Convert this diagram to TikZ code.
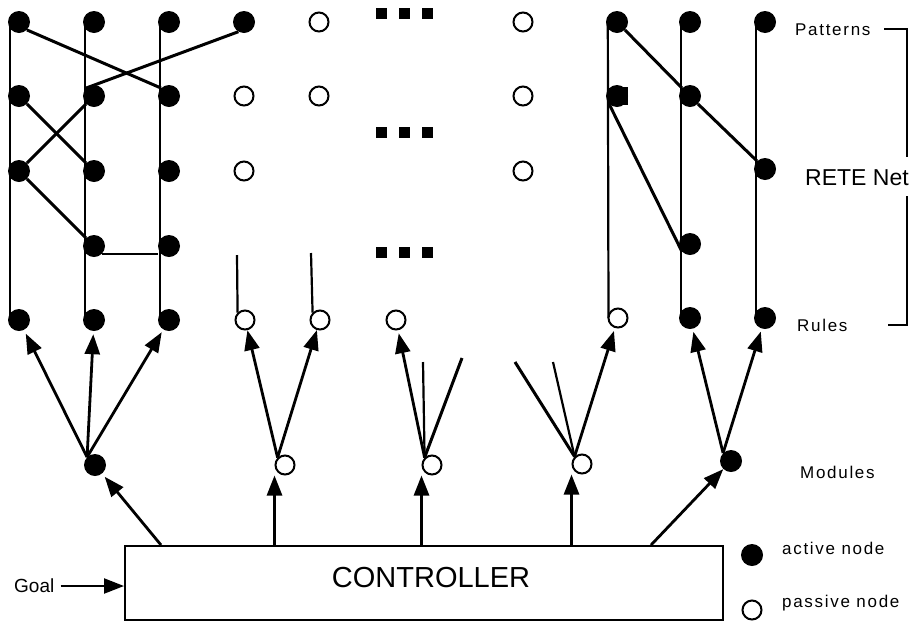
\documentclass[tikz,border=0pt]{standalone}
\usepackage{fontspec}
\setmainfont{Liberation Sans}
\newfontfamily\labelfont[LetterSpace=10]{Liberation Sans}
\usepackage{tikz}
\usetikzlibrary{arrows.meta,backgrounds}

\begin{document}
\begin{tikzpicture}[x=1pt, y=-1pt,
  activenode/.style={circle, fill=black, inner sep=0pt, minimum size=22pt},
  passivenode/.style={circle, draw=black, fill=white, line width=2pt, inner sep=0pt, minimum size=19pt},
  dotbox/.style={rectangle, fill=black, inner sep=0pt, minimum size=11pt},
  netline/.style={line width=2.2pt},
  link/.style={line width=3pt},
  pointer/.style={line width=2.8pt, -{Triangle[length=20pt, width=15pt]}},
  sidelabel/.style={anchor=west, inner sep=0pt, font=\labelfont\fontsize{17}{20}\selectfont}]

\useasboundingbox (0,0) rectangle (912,622);

\node[activenode] (p11) at (19,22) {};
\node[activenode] (p12) at (94,22) {};
\node[activenode] (p13) at (169,22) {};
\node[activenode] (p14) at (244,22) {};
\node[passivenode] (p15) at (319,22) {};
\node[passivenode] (p16) at (523,22) {};
\node[activenode] (p17) at (617,22) {};
\node[activenode] (p18) at (690,22) {};
\node[activenode] (p19) at (765,22) {};

\node[activenode] (p21) at (19,96) {};
\node[activenode] (p22) at (94,96) {};
\node[activenode] (p23) at (169,96) {};
\node[passivenode] (p24) at (244,96) {};
\node[passivenode] (p25) at (319,96) {};
\node[passivenode] (p26) at (523,96) {};
\node[activenode] (p27) at (617,96) {};
\node[activenode] (p28) at (690,96) {};

\node[activenode] (p31) at (19,171) {};
\node[activenode] (p32) at (94,171) {};
\node[activenode] (p33) at (169,171) {};
\node[passivenode] (p34) at (244,171) {};
\node[passivenode] (p36) at (523,171) {};
\node[activenode] (p39) at (765,169) {};

\node[activenode] (p42) at (94,246) {};
\node[activenode] (p43) at (169,246) {};
\node[activenode] (p48) at (690,244) {};

\node[activenode] (r1) at (19,320) {};
\node[activenode] (r2) at (94,320) {};
\node[activenode] (r3) at (169,320) {};
\node[passivenode] (r4) at (245,320) {};
\node[passivenode] (r5) at (320,320) {};
\node[passivenode] (r6) at (396,320) {};
\node[passivenode] (r7) at (618,318) {};
\node[activenode] (r8) at (690,318) {};
\node[activenode] (r9) at (765,318) {};

\node[dotbox] (d11) at (381,13) {};
\node[dotbox] (d12) at (404,13) {};
\node[dotbox] (d13) at (427,13) {};
\node[dotbox] (d21) at (381,132) {};
\node[dotbox] (d22) at (404,132) {};
\node[dotbox] (d23) at (427,132) {};
\node[dotbox] (d31) at (381,252) {};
\node[dotbox] (d32) at (404,252) {};
\node[dotbox] (d33) at (427,252) {};

\node[activenode] (m1) at (95,465) {};
\node[passivenode] (m2) at (285,465) {};
\node[passivenode] (m3) at (432,465) {};
\node[passivenode] (m4) at (582,464) {};
\node[activenode] (m5) at (731,461) {};

\node[draw, line width=2pt, minimum width=598pt, minimum height=74pt,
  label={[font=\fontsize{29}{33}\selectfont, xshift=7pt, yshift=5pt]center:CONTROLLER}] (ctrl) at (424,583) {};

\node[anchor=west, inner sep=0pt, font=\fontsize{19}{22}\selectfont] (goal) at (14,586) {Goal};
\node[sidelabel] (patterns) at (795,30) {Patterns};
\node[anchor=west, inner sep=0pt, font=\fontsize{23}{26}\selectfont] (rete) at (805,178) {RETE Net};
\node[sidelabel] (rules) at (797,325) {Rules};
\node[sidelabel] (modules) at (800,472) {Modules};
\node[activenode] (keyactive) at (752,555) {};
\node[passivenode] (keypassive) at (752,610) {};
\node[sidelabel] (activetext) at (782,548) {active node};
\node[sidelabel] (passivetext) at (782,603) {passive node};

\fill ([yshift=-2pt]p27.north) rectangle ([yshift=2pt]p27.east |- p27.south);

\coordinate (s4) at (237,255);
\coordinate (s5) at (311,253);
\coordinate (t31) at (423,362);
\coordinate (t32) at (462,358);
\coordinate (t41) at (515,362);
\coordinate (t42) at (553,362);
\coordinate (c1) at ([xshift=37pt]ctrl.north west);
\coordinate (c5) at ([xshift=-73pt]ctrl.north east);
\coordinate (bt) at (884,29);
\coordinate (bb) at (888,325);

\begin{scope}[on background layer]
\draw[netline] ([xshift=2pt]p11.west) -- ([xshift=2pt]r1.west);
\draw[netline] ([xshift=2pt]p12.west) -- ([xshift=2pt]r2.west);
\draw[netline] ([xshift=2pt]p13.west) -- ([xshift=2pt]r3.west);
\draw[netline] ([xshift=2pt]p17.west) -- ([xshift=1pt]r7.west);
\draw[netline] ([xshift=2pt]p18.west) -- ([xshift=2pt]r8.west);
\draw[netline] ([xshift=2pt]p19.west) -- ([xshift=2pt]r9.west);
\draw[netline] (s4) -- (r4.north west);
\draw[netline] (s5) -- (r5.north west);

\draw[link] (p11.south east) -- (p23.north west);
\draw[link] (p14.-120) -- (p22.north west);
\draw[link] (p21.south east) -- (p32.north west);
\draw[link] (p31.north east) -- (p22.south west);
\draw[link] (p31.south east) -- (p42.north west);
\draw[netline] (p42.south east) -- (p42.south east -| p43.west);
\draw[link] (p17.south east) -- (p28.north west);
\draw[link] (p28.south east) -- (p39.north west);
\draw[link] (p27.south west) -- (p48.south west);

\draw[pointer, shorten >=4pt] (m1.north west) -- (r1);
\draw[pointer, shorten >=3pt] (m1.north west) -- (r2);
\draw[pointer, shorten >=3pt] (m1.north west) -- (r3);
\draw[pointer] (m2.north west) -- (r4);
\draw[pointer] (m2.north west) -- (r5);
\draw[pointer, shorten >=3pt] (m3.north west) -- (r6);
\draw[netline] (m3.north west) -- (t31);
\draw[link] (m3.north west) -- (t32);
\draw[link] (m4.north west) -- (t41);
\draw[netline] (m4.north west) -- (t42);
\draw[pointer, shorten >=3pt] (m4.north west) -- (r7);
\draw[pointer, shorten >=3pt] (m5.north west) -- (r8);
\draw[pointer, shorten >=3pt] (m5.north west) -- (r9);

\draw[pointer, shorten >=4pt] (c1) -- (m1);
\draw[pointer] (m2.west |- ctrl.north) -- (m2.west |- m2.south);
\draw[pointer] (m3.west |- ctrl.north) -- (m3.west |- m3.south);
\draw[pointer] (m4.west |- ctrl.north) -- (m4.west |- m4.south);
\draw[pointer] (c5) -- (m5);
\draw[pointer, line width=2.2pt] ([xshift=6pt]goal.east) -- (goal.east -| ctrl.west);

\draw[netline] (bt) -| (907,157);
\draw[netline] (907,196) |- (bb);
\end{scope}

\end{tikzpicture}
\end{document}
